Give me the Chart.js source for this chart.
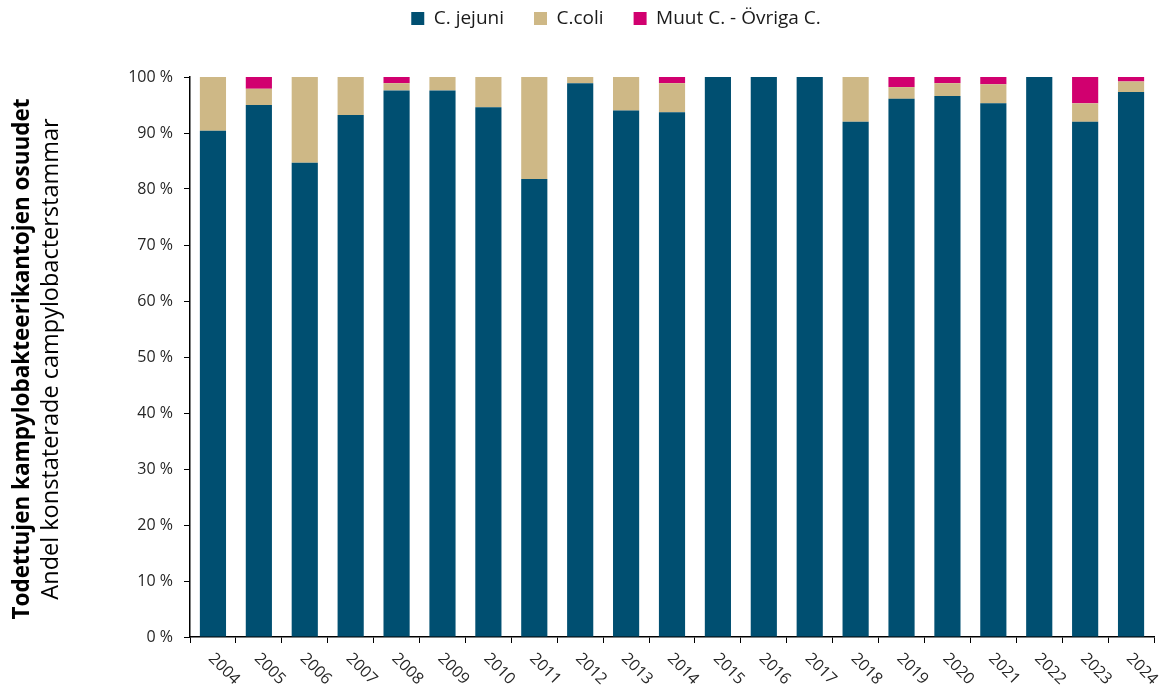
<!DOCTYPE html>
<html>
<head>
<meta charset="utf-8">
<script src="https://cdn.jsdelivr.net/npm/chart.js@4/dist/chart.umd.min.js"></script>
<style>
  html, body { margin: 0; padding: 0; background: #fff; }
  #wrap { width: 1169px; height: 693px; }
</style>
</head>
<body>
<div id="wrap"><canvas id="c" width="1169" height="693"></canvas></div>
<script>
const years = ['2004','2005','2006','2007','2008','2009','2010','2011','2012','2013','2014','2015','2016','2017','2018','2019','2020','2021','2022','2023','2024'];
const jejuni = [90.4, 95.0, 84.7, 93.2, 97.6, 97.6, 94.6, 81.8, 98.9, 94.0, 93.7, 100, 100, 100, 92.0, 96.1, 96.6, 95.3, 100, 92.0, 97.3];
const coli   = [9.6, 2.9, 15.3, 6.8, 1.3, 2.4, 5.4, 18.2, 1.1, 6.0, 5.2, 0, 0, 0, 8.0, 2.1, 2.3, 3.4, 0, 3.3, 1.9];
const other  = [0, 2.1, 0, 0, 1.1, 0, 0, 0, 0, 0, 1.1, 0, 0, 0, 0, 1.8, 1.1, 1.3, 0, 4.7, 0.8];
const seriesNames = ['C. jejuni', 'C.coli', 'Muut C. - Övriga C.'];
const yTitleBold = 'Todettujen kampylobakteerikantojen osuudet';
const yTitleNormal = 'Andel konstaterade campylobacterstammar';

const FONT = "'Open Sans', 'DejaVu Sans', sans-serif";

const legendTweak = {
  id: 'legendTweak',
  afterInit(chart) {
    const lg = chart.legend;
    if (!lg) return;
    const orig = lg.fit.bind(lg);
    lg.fit = function () { orig(); this.height += 39; };
  },
  afterLayout(chart) {
    const lg = chart.legend;
    if (!lg) return;
    lg.left += 39; lg.right += 39;
  }
};

const xLabelPlugin = {
  id: 'xLabels',
  afterDraw(chart) {
    const ctx = chart.ctx;
    const xs = chart.scales.x;
    const baseY = chart.chartArea.bottom;
    ctx.save();
    ctx.font = '16px ' + FONT;
    ctx.fillStyle = '#262626';
    ctx.textAlign = 'left';
    ctx.textBaseline = 'middle';
    years.forEach((y, i) => {
      const px = xs.getPixelForValue(i);
      ctx.save();
      ctx.translate(px - 2, baseY + 19);
      ctx.rotate(Math.PI / 4);
      ctx.fillText(y, 0, 0);
      ctx.restore();
    });
    ctx.restore();
  }
};

const yTitlePlugin = {
  id: 'yTitle',
  afterDraw(chart) {
    const ctx = chart.ctx;
    const ca = chart.chartArea;
    const cy = (ca.top + ca.bottom) / 2 + 2;
    ctx.save();
    ctx.fillStyle = '#000';
    ctx.textAlign = 'center';
    ctx.textBaseline = 'middle';
    ctx.translate(23, cy);
    ctx.rotate(-Math.PI / 2);
    ctx.font = 'bold 22.5px ' + FONT;
    ctx.fillText(yTitleBold, 0, 0);
    ctx.font = '23.5px ' + FONT;
    ctx.fillText(yTitleNormal, 0, 28);
    ctx.restore();
  }
};

new Chart(document.getElementById('c'), {
  type: 'bar',
  data: {
    labels: years,
    datasets: [
      { label: seriesNames[0], data: jejuni, backgroundColor: '#004F71' },
      { label: seriesNames[1], data: coli, backgroundColor: '#CEB886' },
      { label: seriesNames[2], data: other, backgroundColor: '#D1006F' }
    ]
  },
  options: {
    responsive: false,
    animation: false,
    devicePixelRatio: 1,
    layout: { padding: { left: 0, right: 15, top: -21, bottom: 50 } },
    datasets: { bar: { categoryPercentage: 1.0, barPercentage: 0.57, borderWidth: 0 } },
    plugins: {
      legend: {
        position: 'top',
        labels: {
          boxWidth: 13, boxHeight: 13, padding: 30,
          color: '#1a1a1a',
          font: { family: FONT, size: 19 }
        }
      },
      tooltip: { enabled: false }
    },
    scales: {
      x: {
        stacked: true,
        offset: true,
        grid: { display: true, drawOnChartArea: false, tickLength: 6, color: '#000', tickColor: '#000', offset: true },
        border: { display: true, color: '#000', width: 1.5 },
        ticks: { display: false }
      },
      y: {
        stacked: true,
        min: 0, max: 100,
        afterFit(scale) { scale.width = 190; },
        grid: { display: true, drawOnChartArea: false, tickLength: 6, color: '#000', tickColor: '#000' },
        border: { display: true, color: '#000', width: 1.5 },
        ticks: {
          stepSize: 10,
          padding: 11,
          color: '#262626',
          font: { family: FONT, size: 16 },
          callback: v => v + ' %'
        }
      }
    }
  },
  plugins: [legendTweak, xLabelPlugin, yTitlePlugin]
});
</script>
</body>
</html>
